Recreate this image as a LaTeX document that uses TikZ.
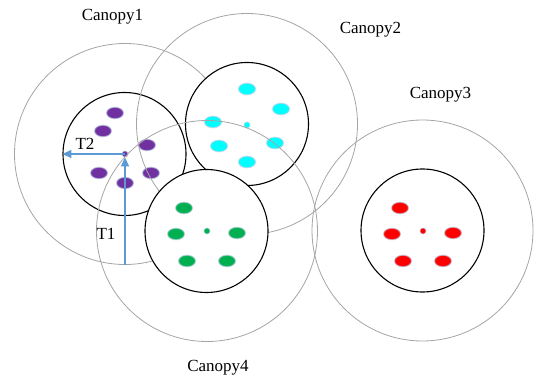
\documentclass[tikz,border=0pt]{standalone}
\usepackage{fontspec}
\setmainfont{Liberation Serif}
\usetikzlibrary{shapes.geometric,arrows.meta}
\definecolor{cpurple}{RGB}{112,48,160}
\definecolor{ccyan}{RGB}{0,255,255}
\definecolor{cgreen}{RGB}{0,176,80}
\definecolor{cred}{RGB}{255,0,0}
\definecolor{tblue}{RGB}{91,155,213}
\definecolor{ringgray}{RGB}{165,165,165}
\definecolor{halo}{RGB}{185,205,230}
\begin{document}
\begin{tikzpicture}[x=1pt,y=-1pt,
  outerc/.style={circle,draw=ringgray,line width=0.8pt,minimum size=221pt,inner sep=0},
  innerc/.style={circle,draw=black,line width=1.1pt,minimum size=123pt,inner sep=0,fill=white},
  dotc/.style={ellipse,minimum width=17pt,minimum height=11.5pt,inner sep=0,draw=halo,line width=1.2pt,draw opacity=0.55},
  cdot/.style={circle,minimum size=6pt,inner sep=0,draw=halo,line width=0.8pt,draw opacity=0.55},
  lbl/.style={font=\fontsize{17}{20}\selectfont,anchor=base,inner sep=0},
  tarrow/.style={draw=tblue,line width=1.5pt,-{Triangle[length=9pt,width=8pt]}}]
\useasboundingbox (0,0) rectangle (540,379);
% Canopy 1
\node[outerc] (c1o) at (125,154) {};
\node[innerc] (c1i) at (124.5,154) {};
\node[dotc,fill=cpurple] (p1) at (115,113) {};
\node[dotc,fill=cpurple] (p2) at (103,131) {};
\node[dotc,fill=cpurple] (p3) at (147,145) {};
\node[dotc,fill=cpurple] (p4) at (99,173) {};
\node[dotc,fill=cpurple] (p5) at (151,173) {};
\node[dotc,fill=cpurple] (p6) at (125,183) {};
\node[cdot,fill=cpurple] (p0) at (125,154) {};
% Canopy 2
\node[outerc] (c2o) at (247,124) {};
\node[innerc] (c2i) at (247,124) {};
\node[dotc,fill=ccyan] (q1) at (247,89) {};
\node[dotc,fill=ccyan] (q2) at (281,109) {};
\node[dotc,fill=ccyan] (q3) at (213,122) {};
\node[dotc,fill=ccyan] (q4) at (219,146) {};
\node[dotc,fill=ccyan] (q5) at (275,143) {};
\node[dotc,fill=ccyan] (q6) at (247,162) {};
\node[cdot,fill=ccyan] (q0) at (247,125) {};
% Canopy 4
\node[outerc] (c4o) at (207,231) {};
\node[innerc] (c4i) at (206.5,231) {};
\node[dotc,fill=cgreen] (g1) at (184,208) {};
\node[dotc,fill=cgreen] (g2) at (176,234) {};
\node[dotc,fill=cgreen] (g3) at (237,233) {};
\node[dotc,fill=cgreen] (g4) at (187,261) {};
\node[dotc,fill=cgreen] (g5) at (227,261) {};
\node[cdot,fill=cgreen] (g0) at (207,231) {};
% Canopy 3
\node[outerc] (c3o) at (422.5,230.5) {};
\node[innerc] (c3i) at (422.5,230.5) {};
\node[dotc,fill=cred] (r1) at (400,208) {};
\node[dotc,fill=cred] (r2) at (392,234) {};
\node[dotc,fill=cred] (r3) at (453,233) {};
\node[dotc,fill=cred] (r4) at (403,261) {};
\node[dotc,fill=cred] (r5) at (443,261) {};
\node[cdot,fill=cred] (r0) at (423,231) {};
% arrows
\draw[tarrow] (p0.center) -- (c1i.west);
\draw[tarrow] (c1o.south) -- (p0.south);
% labels
\node[lbl] (l1) at (112.5,20.7) {Canopy1};
\node[lbl] (l2) at (370.5,33.3) {Canopy2};
\node[lbl] (l3) at (440.5,98.3) {Canopy3};
\node[lbl] (l4) at (218,371.7) {Canopy4};
\node[lbl] (t2) at (85,150) {T2};
\node[lbl] (t1) at (106,240) {T1};
\end{tikzpicture}
\end{document}
